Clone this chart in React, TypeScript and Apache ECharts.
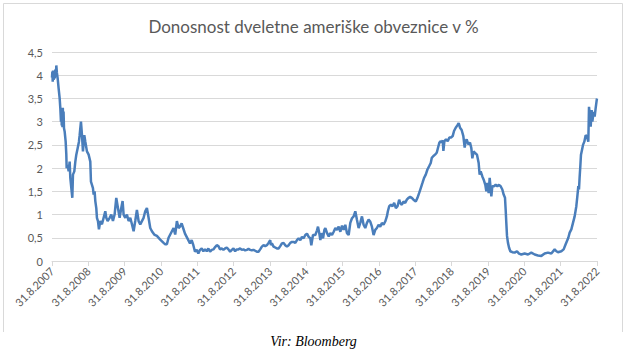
import React, { useEffect, useRef } from "react";
import * as echarts from "echarts";

// x = years after 31.8.2007, y = 2-year US Treasury yield in %
const seg2007to2011: [number, number][] = [
  [0, 3.95], [0.01, 4.08], [0.02, 3.86], [0.03, 4.1], [0.045, 3.9], [0.06, 4.05], [0.075, 3.93], [0.09, 4.12],
  [0.105, 3.98], [0.119, 4.21], [0.135, 4.05], [0.156, 3.93], [0.183, 3.71], [0.211, 3.5], [0.229, 3.29],
  [0.247, 3.0], [0.258, 3.3], [0.268, 2.92], [0.278, 3.28], [0.288, 2.88], [0.298, 3.3], [0.308, 2.95],
  [0.318, 3.22], [0.33, 2.86], [0.348, 2.79], [0.376, 2.57], [0.394, 2.29], [0.403, 2.0], [0.431, 2.07],
  [0.458, 1.93], [0.486, 2.14], [0.504, 1.79], [0.532, 1.57], [0.559, 1.36], [0.577, 1.86], [0.614, 1.93],
  [0.642, 2.14], [0.669, 2.29], [0.706, 2.43], [0.742, 2.57], [0.761, 2.71], [0.797, 3.0], [0.825, 2.71],
  [0.852, 2.36], [0.889, 2.71], [0.917, 2.57], [0.962, 2.36], [1.008, 2.29], [1.054, 2.14], [1.072, 1.71],
  [1.1, 1.64], [1.127, 1.57], [1.146, 1.43], [1.173, 1.5], [1.192, 1.29], [1.219, 1.14], [1.237, 0.93],
  [1.265, 0.86], [1.292, 0.68], [1.329, 0.86], [1.375, 0.79], [1.421, 0.93], [1.467, 1.07], [1.494, 0.93],
  [1.531, 0.86], [1.586, 0.93], [1.632, 1.0], [1.677, 0.86], [1.723, 1.0], [1.769, 1.36], [1.815, 1.14],
  [1.861, 0.93], [1.907, 1.14], [1.943, 1.29], [1.971, 1.0], [2.017, 0.93], [2.062, 1.0], [2.108, 0.86],
  [2.154, 0.93], [2.2, 0.79], [2.246, 0.64], [2.291, 0.86], [2.337, 1.1], [2.383, 0.86], [2.429, 0.79],
  [2.475, 0.86], [2.521, 0.93], [2.566, 1.07], [2.612, 1.14], [2.658, 0.93], [2.704, 0.71], [2.75, 0.64],
  [2.814, 0.57], [2.887, 0.54], [2.979, 0.46], [3.071, 0.39], [3.116, 0.36], [3.162, 0.36], [3.208, 0.5],
  [3.254, 0.57], [3.3, 0.64], [3.346, 0.71], [3.391, 0.57], [3.437, 0.86], [3.483, 0.71],
];

const seg2011to2015: [number, number][] = [
  [3.522, 0.74], [3.568, 0.81], [3.614, 0.7], [3.66, 0.59], [3.706, 0.52], [3.752, 0.45], [3.798, 0.38],
  [3.844, 0.45], [3.89, 0.34], [3.936, 0.2], [3.982, 0.24], [4.028, 0.16], [4.074, 0.24], [4.12, 0.27],
  [4.166, 0.21], [4.212, 0.25], [4.258, 0.21], [4.304, 0.27], [4.35, 0.2], [4.396, 0.24], [4.442, 0.25],
  [4.49, 0.3], [4.534, 0.34], [4.58, 0.32], [4.626, 0.25], [4.672, 0.27], [4.718, 0.24], [4.764, 0.27],
  [4.81, 0.29], [4.856, 0.25], [4.902, 0.2], [4.948, 0.24], [4.994, 0.27], [5.04, 0.21], [5.086, 0.25],
  [5.132, 0.25], [5.178, 0.27], [5.224, 0.24], [5.27, 0.25], [5.316, 0.23], [5.362, 0.24], [5.408, 0.26],
  [5.454, 0.24], [5.5, 0.23], [5.546, 0.24], [5.592, 0.22], [5.638, 0.2], [5.684, 0.2], [5.73, 0.25],
  [5.776, 0.31], [5.822, 0.34], [5.868, 0.32], [5.914, 0.34], [5.96, 0.39], [6.006, 0.45], [6.024, 0.34],
  [6.052, 0.38], [6.098, 0.31], [6.144, 0.29], [6.19, 0.27], [6.236, 0.27], [6.282, 0.32], [6.328, 0.38],
  [6.374, 0.39], [6.42, 0.34], [6.466, 0.31], [6.512, 0.34], [6.558, 0.39], [6.604, 0.41], [6.65, 0.41],
  [6.696, 0.39], [6.742, 0.45], [6.788, 0.49], [6.834, 0.45], [6.88, 0.52], [6.926, 0.49], [6.972, 0.56],
  [7.018, 0.59], [7.064, 0.52], [7.11, 0.49], [7.137, 0.34], [7.183, 0.56], [7.247, 0.56], [7.294, 0.66],
  [7.321, 0.74], [7.358, 0.59], [7.386, 0.45],
];

const seg2015to2019: [number, number][] = [
  [7.414, 0.6], [7.46, 0.49], [7.497, 0.67], [7.524, 0.71], [7.57, 0.6], [7.616, 0.53], [7.661, 0.6],
  [7.707, 0.56], [7.753, 0.63], [7.799, 0.71], [7.844, 0.67], [7.89, 0.74], [7.936, 0.63], [7.982, 0.76],
  [8.027, 0.67], [8.073, 0.78], [8.119, 0.6], [8.165, 0.56], [8.21, 0.82], [8.256, 0.92], [8.302, 0.96],
  [8.348, 1.07], [8.393, 0.89], [8.439, 0.71], [8.485, 0.82], [8.531, 0.96], [8.576, 0.78], [8.622, 0.71],
  [8.668, 0.82], [8.714, 0.89], [8.759, 0.85], [8.805, 0.74], [8.851, 0.56], [8.897, 0.67], [8.942, 0.71],
  [8.988, 0.78], [9.034, 0.74], [9.08, 0.82], [9.125, 0.78], [9.171, 0.85], [9.217, 0.96], [9.244, 1.07],
  [9.281, 1.18], [9.327, 1.21], [9.372, 1.18], [9.418, 1.25], [9.464, 1.14], [9.51, 1.18], [9.555, 1.32],
  [9.583, 1.25], [9.629, 1.21], [9.674, 1.28], [9.72, 1.25], [9.766, 1.32], [9.812, 1.36], [9.857, 1.38],
  [9.903, 1.36], [9.949, 1.32], [10.013, 1.28], [10.059, 1.36], [10.104, 1.46], [10.15, 1.57], [10.196, 1.68],
  [10.241, 1.79], [10.287, 1.86], [10.333, 1.97], [10.379, 2.04], [10.424, 2.11], [10.452, 2.22],
  [10.498, 2.26], [10.543, 2.29], [10.589, 2.33], [10.635, 2.47], [10.662, 2.55], [10.699, 2.58],
  [10.726, 2.55], [10.754, 2.6], [10.772, 2.37], [10.8, 2.58], [10.845, 2.62], [10.891, 2.58], [10.937, 2.66],
  [10.983, 2.66], [11.028, 2.69], [11.065, 2.8], [11.111, 2.87], [11.156, 2.92], [11.193, 2.97], [11.23, 2.87],
  [11.275, 2.82], [11.321, 2.69], [11.358, 2.44], [11.385, 2.58], [11.413, 2.62], [11.458, 2.51], [11.504, 2.55],
];

const seg2019to2022: [number, number][] = [
  [11.541, 2.43], [11.569, 2.21], [11.605, 2.36], [11.651, 2.32], [11.697, 2.29], [11.743, 2.11],
  [11.77, 1.86], [11.798, 1.93], [11.844, 1.82], [11.881, 1.75], [11.926, 1.64], [11.954, 1.5], [11.981, 1.68],
  [12.018, 1.46], [12.046, 1.79], [12.092, 1.39], [12.119, 1.61], [12.165, 1.61], [12.211, 1.64],
  [12.257, 1.61], [12.303, 1.64], [12.348, 1.61], [12.394, 1.54], [12.431, 1.43], [12.468, 1.36],
  [12.486, 1.11], [12.504, 0.82], [12.523, 0.54], [12.55, 0.39], [12.578, 0.29], [12.614, 0.21], [12.67, 0.19],
  [12.734, 0.18], [12.798, 0.21], [12.853, 0.16], [12.917, 0.14], [13.009, 0.16], [13.101, 0.14], [13.192, 0.18],
  [13.284, 0.14], [13.376, 0.12], [13.468, 0.11], [13.559, 0.16], [13.651, 0.18], [13.743, 0.16], [13.835, 0.25],
  [13.881, 0.21], [13.926, 0.19], [14.018, 0.21], [14.082, 0.25], [14.137, 0.36], [14.174, 0.43], [14.211, 0.5],
  [14.248, 0.61], [14.294, 0.68], [14.339, 0.82], [14.385, 0.96], [14.431, 1.18], [14.459, 1.39], [14.486, 1.61],
  [14.504, 1.54], [14.523, 1.82], [14.541, 2.04], [14.559, 2.29], [14.578, 2.36], [14.615, 2.5], [14.651, 2.57],
  [14.688, 2.71], [14.725, 2.68], [14.761, 2.57], [14.78, 3.32], [14.798, 3.18], [14.826, 2.89], [14.853, 3.25],
  [14.872, 3.0], [14.908, 3.21], [14.936, 3.11], [14.963, 3.29], [14.991, 3.46], [15.0, 3.5],
];

const startYear = 2007;
const labelDay = "31.8.";
const titleText = "Donosnost dveletne ameriške obveznice v %";
const sourceText = "Vir: Bloomberg";

export default function App() {
  const ref = useRef<HTMLDivElement>(null);
  useEffect(() => {
    if (!ref.current) return;
    const chart = echarts.init(ref.current, undefined, { renderer: "svg" });
    const data = [...seg2007to2011, ...seg2011to2015, ...seg2015to2019, ...seg2019to2022];
    const gray = "#d9d9d9";
    const textColor = "#595959";
    chart.setOption({
      animation: false,
      backgroundColor: "#ffffff",
      title: {
        text: titleText,
        left: "center",
        top: 13,
        textStyle: { fontFamily: "Lato", fontSize: 17, fontWeight: "normal", color: textColor },
      },
      grid: { left: 52, right: 30, top: 52, bottom: 103 },
      xAxis: {
        type: "value",
        min: 0,
        max: 15,
        interval: 1,
        axisLine: { show: true, lineStyle: { color: gray } },
        axisTick: { show: true, length: 5, lineStyle: { color: gray } },
        splitLine: { show: false },
        axisLabel: {
          rotate: 45,
          margin: 8,
          color: textColor,
          fontFamily: "Lato",
          fontSize: 11,
          formatter: (v: number) => labelDay + String(startYear + Math.round(v)),
        },
      },
      yAxis: {
        type: "value",
        min: 0,
        max: 4.5,
        interval: 0.5,
        axisLine: { show: false },
        axisTick: { show: false },
        splitLine: { lineStyle: { color: gray, width: 1 } },
        axisLabel: {
          margin: 9,
          color: textColor,
          fontFamily: "Lato",
          fontSize: 11,
          formatter: (v: number) => String(v).replace(".", ","),
        },
      },
      series: [
        {
          type: "line",
          data,
          showSymbol: false,
          lineStyle: { color: "#4a7ebb", width: 2.5 },
          itemStyle: { color: "#4a7ebb" },
        },
      ],
      graphic: [
        {
          type: "polyline",
          shape: { points: [[3.5, 332], [3.5, 3.5], [622.5, 3.5], [622.5, 332]] },
          style: { stroke: gray, fill: "none", lineWidth: 1 },
          silent: true,
        },
        {
          type: "text",
          left: "center",
          top: 334,
          style: {
            text: sourceText,
            font: "italic 14px 'Liberation Serif', 'Times New Roman', serif",
            fill: "#000000",
          },
        },
      ],
    });
    return () => chart.dispose();
  }, []);
  return (
    <div
      ref={ref}
      style={{ position: "fixed", left: 0, top: 0, width: 627, height: 364 }}
    />
  );
}
